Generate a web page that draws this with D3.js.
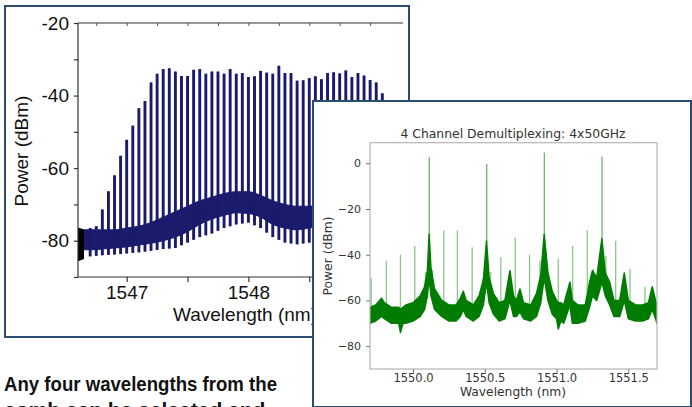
<!DOCTYPE html>
<meta charset="utf-8">
<script src="https://cdn.jsdelivr.net/npm/d3@7"></script>
<style>
  body { margin: 0; background: #fff; }
  svg { display: block; }
</style>
<body>
<div id="chart"></div>
<script>

// ---- left: comb spectrum ----
var combWl = [1546.70, 1546.75, 1546.80, 1546.85, 1546.90, 1546.95, 1547.00, 1547.05, 1547.10, 1547.15,
              1547.20, 1547.25, 1547.30, 1547.35, 1547.40, 1547.45, 1547.50, 1547.55, 1547.60, 1547.65,
              1547.70, 1547.75, 1547.80, 1547.85, 1547.90, 1547.95, 1548.00, 1548.05, 1548.10, 1548.15,
              1548.20, 1548.25, 1548.30, 1548.35, 1548.40, 1548.45, 1548.50, 1548.55, 1548.60, 1548.65,
              1548.70, 1548.75, 1548.80, 1548.85, 1548.90, 1548.95, 1549.00, 1549.05, 1549.10]
var combPeak = [-77.5, -76.0, -71.4, -66.4, -62.0, -56.6, -52.2, -48.3, -43.5, -41.5,
                -36.4, -34.0, -32.7, -32.5, -33.4, -34.6, -34.6, -32.9, -32.7, -34.0,
                -33.4, -33.4, -34.0, -32.7, -34.0, -33.8, -34.9, -34.7, -33.2, -33.7,
                -34.0, -31.8, -33.8, -33.8, -35.9, -35.8, -35.2, -34.7, -35.5, -33.8,
                -33.6, -33.9, -33.1, -34.9, -33.8, -34.5, -35.7, -36.4, -39.4]

var floorWl  = [1546.6, 1546.7, 1546.8, 1546.9, 1547.0, 1547.1, 1547.2, 1547.3, 1547.4, 1547.5,
                1547.6, 1547.7, 1547.8, 1547.9, 1548.0, 1548.1, 1548.2, 1548.3, 1548.4, 1548.5,
                1548.6, 1548.7, 1548.8, 1548.9, 1549.0, 1549.1, 1549.2, 1549.3]
var floorTop = [-77, -77, -77, -77, -76.5, -76, -75, -73.5, -72, -70.5,
                -69, -68, -67, -66.5, -66.5, -67.5, -69, -70, -70.5, -70.5,
                -70, -69.5, -69, -69, -69.5, -70, -70.5, -70.5]
var floorBot = [-82.5, -82.5, -82.3, -82, -81.7, -81.2, -80.7, -80, -79, -77.5,
                -75.5, -74, -73, -72.3, -72.5, -73.5, -75.5, -76.5, -77, -76.5,
                -76, -75.5, -75, -75, -75.5, -76, -76, -76]
var floorDip = [-84.2, -84.3, -84, -83.8, -83.5, -83.2, -82.8, -82.3, -82, -80.5,
                -79, -78, -76.5, -75.5, -75, -76.5, -79, -80.5, -81, -80.5,
                -80, -79.5, -79, -79, -79.5, -80, -80, -80]
var floorBase = [-77, -76.5, -75.5, -74, -72, -69, -66.5, -64, -62.5, -61,
                 -60, -59, -58.5, -58.5, -59, -60, -61.5, -62.5, -63, -63,
                 -62.5, -62, -62, -62, -62, -62.5, -63, -63]

var startWl = [1546.60, 1546.645]
var startTop = [-76.5, -77]
var startBot = [-85.5, -85]

var leftXTicks = [1547, 1548, 1549]
var leftXLabels = [1547, 1548]   // 1549 sits under the inset panel
var leftXMinor = [1547.5, 1548.5]
var leftYTicks = [-20, -30, -40, -50, -60, -70, -80, -90]
var leftYLabels = [-20, -40, -60, -80]

// ---- right: 4 channel demux ----
var demuxWl  = [1549.70, 1549.74, 1549.78, 1549.80, 1549.85, 1549.90, 1549.912, 1549.93, 1549.95, 1550.00,
                1550.05, 1550.08, 1550.10, 1550.112, 1550.125, 1550.15, 1550.20, 1550.25, 1550.30, 1550.33,
                1550.35, 1550.37, 1550.42, 1550.46, 1550.49, 1550.512, 1550.53, 1550.56, 1550.60, 1550.64,
                1550.675, 1550.70, 1550.72, 1550.745, 1550.77, 1550.82, 1550.86, 1550.89, 1550.914, 1550.94,
                1550.97, 1551.00, 1551.012, 1551.03, 1551.05, 1551.093, 1551.11, 1551.15, 1551.20, 1551.23,
                1551.25, 1551.28, 1551.316, 1551.34, 1551.37, 1551.40, 1551.44, 1551.472, 1551.50, 1551.55,
                1551.60, 1551.64, 1551.667, 1551.69, 1551.70]
var demuxTop = [-63, -62, -59, -61, -63, -63, -64, -63, -62, -61,
                -58, -54, -47, -31, -46, -55, -60, -62, -62, -59,
                -56, -60, -62, -58, -51, -34, -50, -57, -61, -60,
                -47, -58, -60, -55, -61, -62, -57, -49, -31, -48,
                -56, -60, -61, -61, -62, -52, -60, -62, -62, -52,
                -47, -50, -33, -48, -52, -60, -60, -48, -60, -62,
                -62, -61, -54, -60, -62]
var demuxBot = [-70, -69, -67, -68, -70, -70, -74, -70, -70, -69,
                -67, -64, -58, -50, -58, -64, -67, -69, -69, -67,
                -64, -67, -69, -67, -62, -52, -61, -66, -69, -68,
                -60, -67, -67, -65, -68, -69, -67, -61, -50, -60,
                -66, -68, -72.5, -69, -70, -62, -70, -70, -69, -63,
                -58, -60, -52, -58, -62, -67, -67, -60, -68, -69,
                -69, -68, -64, -68, -70]

var chanWl   = [1550.113, 1550.513, 1550.915, 1551.317]
var chanPeak = [2.6, -0.3, 4.7, 2.8]

var sideWl   = [1549.709, 1549.814, 1549.912, 1550.012, 1550.086, 1550.135, 1550.214, 1550.309, 1550.412, 1550.484,
                1550.540, 1550.612, 1550.712, 1550.812, 1550.884, 1551.012, 1551.112, 1551.214, 1551.256, 1551.344,
                1551.412, 1551.512, 1551.616]
var sidePeak = [-50.3, -42.6, -40.0, -36.2, -47.5, -46.7, -29.4, -29.4, -36.7, -50.7,
                -47.5, -41.0, -32.5, -40.0, -42.5, -41.7, -36.2, -29.3, -46.1, -40.6,
                -33.9, -46.2, -54.0]

var rightXTicks = [1550.0, 1550.5, 1551.0, 1551.5]
var rightYTicks = [0, -20, -40, -60, -80]

var W = 692, H = 407
var navy = "#1b1b6e", frame = "#2d4c72", green = "#007d00"

var svg = d3.select("#chart").append("svg").attr("width", W).attr("height", H)

// ===== left panel =====
svg.append("rect").attr("x", 5).attr("y", 6).attr("width", 404).attr("height", 331)
    .attr("fill", "#fff").attr("stroke", frame).attr("stroke-width", 2)

var xL = d3.scaleLinear().domain([1546.6, 1549.27]).range([78, 403])
var yL = d3.scaleLinear().domain([-90, -20]).range([277, 23])

var gL = svg.append("g")
gL.append("clipPath").attr("id", "clipL").append("rect").attr("x", 78).attr("y", 23).attr("width", 325).attr("height", 254)
var plotL = gL.append("g").attr("clip-path", "url(#clipL)")

var dipAt = d3.scaleLinear().domain(floorWl).range(floorDip)
var baseAt = d3.scaleLinear().domain(floorWl).range(floorBase)

var floorPts = floorWl.map((d, i) => ({wl: d, top: floorTop[i], bot: floorBot[i]}))
plotL.append("path").datum(floorPts)
    .attr("d", d3.area().x(d => xL(d.wl)).y0(d => yL(d.bot)).y1(d => yL(d.top)).curve(d3.curveMonotoneX))
    .attr("fill", navy).attr("stroke", navy).attr("stroke-width", 1)

var combPts = combWl.map((d, i) => ({wl: d, peak: combPeak[i]}))
plotL.selectAll(".base").data(combPts).enter().append("line").attr("class", "base")
    .attr("x1", d => xL(d.wl)).attr("x2", d => xL(d.wl))
    .attr("y1", d => yL(dipAt(d.wl))).attr("y2", d => yL(Math.max(baseAt(d.wl), d.peak)))
    .attr("stroke", navy).attr("stroke-width", 2.9)
plotL.selectAll(".spike").data(combPts).enter().append("line").attr("class", "spike")
    .attr("x1", d => xL(d.wl)).attr("x2", d => xL(d.wl))
    .attr("y1", d => yL(dipAt(d.wl))).attr("y2", d => yL(d.peak))
    .attr("stroke", navy).attr("stroke-width", 1.5)

var startPts = startWl.map((d, i) => ({wl: d, top: startTop[i], bot: startBot[i]}))
plotL.append("path").datum(startPts)
    .attr("d", d3.area().x(d => xL(d.wl)).y0(d => yL(d.bot)).y1(d => yL(d.top)))
    .attr("fill", "#000").attr("stroke", "#000").attr("stroke-width", 1)

// spines
gL.append("path").attr("d", "M78,23V277H403M78,23H403").attr("fill", "none").attr("stroke", "#333").attr("stroke-width", 1.2)

var axL = gL.append("g").attr("transform", "translate(0,277)")
    .call(d3.axisBottom(xL).tickValues(leftXTicks.concat(leftXMinor)).tickSize(5).tickPadding(4)
        .tickFormat(d => leftXLabels.indexOf(d) >= 0 ? d : ""))
axL.select(".domain").remove()
axL.selectAll("line").attr("stroke", "#333").attr("stroke-width", 1.2)
axL.selectAll("text").attr("font-family", "Liberation Sans, Arial, sans-serif").attr("font-size", 19).attr("fill", "#111")

var axT = gL.append("g").attr("transform", "translate(0,23)")
    .call(d3.axisTop(xL).tickValues([1546.75, 1547, 1547.25, 1547.5, 1547.75, 1548, 1548.25, 1548.5, 1548.75, 1549]).tickSize(-3).tickFormat(""))
axT.select(".domain").remove()
axT.selectAll("line").attr("stroke", "#555")

var ayL = gL.append("g").attr("transform", "translate(78,0)")
    .call(d3.axisLeft(yL).tickValues(leftYTicks).tickSize(4).tickPadding(5)
        .tickFormat(d => leftYLabels.indexOf(d) >= 0 ? String(d) : ""))
ayL.select(".domain").remove()
ayL.selectAll("line").attr("stroke", "#333").attr("stroke-width", 1.2)
ayL.selectAll("text").attr("font-family", "Liberation Sans, Arial, sans-serif").attr("font-size", 19).attr("fill", "#111")

gL.append("text").attr("x", 173).attr("y", 321).text("Wavelength (nm)")
    .attr("font-family", "Liberation Sans, Arial, sans-serif").attr("font-size", 19).attr("fill", "#111")
gL.append("text").attr("transform", "translate(28,151) rotate(-90)").attr("text-anchor", "middle").text("Power (dBm)")
    .attr("font-family", "Liberation Sans, Arial, sans-serif").attr("font-size", 19).attr("fill", "#111")

// ===== right panel =====
svg.append("rect").attr("x", 313).attr("y", 101).attr("width", 378).attr("height", 306)
    .attr("fill", "#fff").attr("stroke", frame).attr("stroke-width", 2)

var xR = d3.scaleLinear().domain([1549.7, 1551.7]).range([370, 657])
var yR = d3.scaleLinear().domain([-90, 9]).range([369, 142.7])
var gR = svg.append("g")
gR.append("clipPath").attr("id", "clipR").append("rect").attr("x", 370).attr("y", 142.7).attr("width", 287).attr("height", 226.3)
var plotR = gR.append("g").attr("clip-path", "url(#clipR)")

var topAt = d3.scaleLinear().domain(demuxWl).range(demuxTop)
var demuxPts = demuxWl.map((d, i) => ({wl: d, top: demuxTop[i], bot: demuxBot[i]}))
plotR.append("path").datum(demuxPts)
    .attr("d", d3.area().x(d => xR(d.wl)).y0(d => yR(d.bot)).y1(d => yR(d.top)))
    .attr("fill", green).attr("stroke", green).attr("stroke-width", 1.5).attr("stroke-linejoin", "round")

var sidePts = sideWl.map((d, i) => ({wl: d, peak: sidePeak[i]}))
plotR.selectAll(".side").data(sidePts).enter().append("line").attr("class", "side")
    .attr("x1", d => xR(d.wl)).attr("x2", d => xR(d.wl))
    .attr("y1", d => yR(topAt(d.wl))).attr("y2", d => yR(d.peak))
    .attr("stroke", "#008000").attr("stroke-opacity", 0.45).attr("stroke-width", 1.3)

var chanPts = chanWl.map((d, i) => ({wl: d, peak: chanPeak[i]}))
plotR.selectAll(".chan").data(chanPts).enter().append("line").attr("class", "chan")
    .attr("x1", d => xR(d.wl)).attr("x2", d => xR(d.wl))
    .attr("y1", d => yR(topAt(d.wl))).attr("y2", d => yR(d.peak))
    .attr("stroke", "#008000").attr("stroke-opacity", 0.55).attr("stroke-width", 1.4)

gR.append("rect").attr("x", 370).attr("y", 142.7).attr("width", 287).attr("height", 226.3)
    .attr("fill", "none").attr("stroke", "#b5b5b5").attr("stroke-width", 1.2)

var fontR = "DejaVu Sans, sans-serif"
var axR = gR.append("g").attr("transform", "translate(0,369)")
    .call(d3.axisBottom(xR).tickValues(rightXTicks).tickFormat(d3.format(".1f")).tickSize(4).tickPadding(1))
axR.select(".domain").remove()
axR.selectAll("line").attr("stroke", "#777")
axR.selectAll("text").attr("font-family", fontR).attr("font-size", 11.5).attr("fill", "#333")

var ayR = gR.append("g").attr("transform", "translate(370,0)")
    .call(d3.axisLeft(yR).tickValues(rightYTicks).tickSize(4).tickPadding(5)
        .tickFormat(d => d < 0 ? "\u2212" + Math.abs(d) : String(d)))
ayR.select(".domain").remove()
ayR.selectAll("line").attr("stroke", "#777")
ayR.selectAll("text").attr("font-family", fontR).attr("font-size", 11).attr("fill", "#333")

gR.append("text").attr("x", 513).attr("y", 138).attr("text-anchor", "middle").text("4 Channel Demultiplexing: 4x50GHz")
    .attr("font-family", fontR).attr("font-size", 12.4).attr("fill", "#333")
gR.append("text").attr("x", 513).attr("y", 396).attr("text-anchor", "middle").text("Wavelength (nm)")
    .attr("font-family", fontR).attr("font-size", 12.3).attr("fill", "#333")
gR.append("text").attr("transform", "translate(332,256) rotate(-90)").attr("text-anchor", "middle").text("Power (dBm)")
    .attr("font-family", fontR).attr("font-size", 12.3).attr("fill", "#333")

// ===== caption text =====
svg.append("text").attr("x", 4).attr("y", 391).text("Any four wavelengths from the")
    .attr("font-family", "Liberation Sans Narrow, Liberation Sans, Arial, sans-serif").attr("font-weight", "bold")
    .attr("font-size", 21).attr("textLength", 273).attr("lengthAdjust", "spacingAndGlyphs").attr("fill", "#111")
svg.append("text").attr("x", 4).attr("y", 417).text("comb can be selected and")
    .attr("font-family", "Liberation Sans Narrow, Liberation Sans, Arial, sans-serif").attr("font-weight", "bold")
    .attr("font-size", 21).attr("fill", "#111")

</script>
</body>
</html>
